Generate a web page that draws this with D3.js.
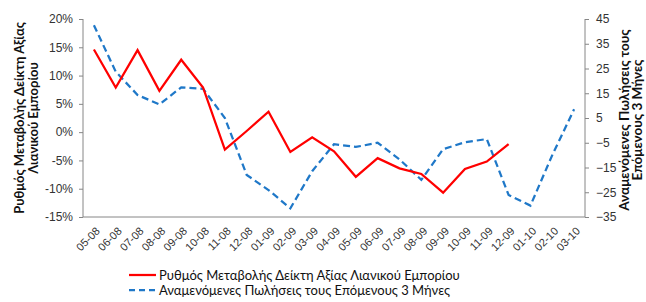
<!DOCTYPE html>
<html>
<head>
<meta charset="utf-8">
<script src="https://cdnjs.cloudflare.com/ajax/libs/d3/7.8.5/d3.min.js"></script>
<style>
  body { margin: 0; background: #fff; }
  svg { font-family: Lato, "Open Sans", sans-serif; }
</style>
</head>
<body>
<div id="chart"></div>
<script>
// months on the x axis
const months = ["05-08", "06-08", "07-08", "08-08", "09-08", "10-08", "11-08", "12-08",
  "01-09", "02-09", "03-09", "04-09", "05-09", "06-09", "07-09", "08-09", "09-09",
  "10-09", "11-09", "12-09", "01-10", "02-10", "03-10"];

// retail value index change (%), left axis
const retailChange = [14.6, 7.9, 14.5, 7.3, 12.8, 7.9, -3.1, 0.2, 3.6, -3.5, -0.9, -3.4,
  -7.9, -4.6, -6.4, -7.4, -10.7, -6.5, -5.2, -2.1];

// expected sales next 3 months, right axis
const expectedSales = [42.5, 23.7, 14.3, 10.5, 17.4, 16.8, 5, -18, -24.1, -31.5, -16.5,
  -5.6, -6.7, -5.0, -11.7, -20, -7.6, -4.8, -3.5, -26.1, -30.4, -10, 8.5];

const leftTicks = [-15, -10, -5, 0, 5, 10, 15, 20];
const rightTicks = [-35, -25, -15, -5, 5, 15, 25, 35, 45];

const seriesNames = ["Ρυθμός Μεταβολής Δείκτη Αξίας Λιανικού Εμπορίου",
  "Αναμενόμενες Πωλήσεις τους Επόμενους 3 Μήνες"];

const W = 646, H = 302;
const margin = { top: 19, right: 60, bottom: 85, left: 83 };
const width = 585 - margin.left, height = 217 - margin.top;

const svg = d3.select("#chart").append("svg")
  .attr("width", W).attr("height", H);
const g = svg.append("g").attr("transform", `translate(${margin.left},${margin.top})`);

const x = d3.scaleBand().domain(months).range([0, width]);
const yL = d3.scaleLinear().domain([-15, 20]).range([height, 0]);
const yR = d3.scaleLinear().domain([-35, 45]).range([height, 0]);

const axisColor = "#868686", textColor = "#333";

// left axis
const la = g.append("g").call(d3.axisLeft(yL).tickValues(leftTicks).tickSize(4).tickPadding(6)
  .tickFormat(d => d + "%"));
la.select(".domain").attr("stroke", axisColor).attr("d", `M0,0V${height}`);
la.selectAll(".tick line").attr("stroke", axisColor);
la.selectAll("text").attr("fill", textColor).style("font-size", "12px");

// right axis
const ra = g.append("g").attr("transform", `translate(${width},0)`)
  .call(d3.axisRight(yR).tickValues(rightTicks).tickSize(4).tickPadding(7));
ra.select(".domain").attr("stroke", axisColor).attr("d", `M0,0V${height}`);
ra.selectAll(".tick line").attr("stroke", axisColor);
ra.selectAll("text").attr("fill", textColor).style("font-size", "12px");

// bottom axis
const ba = g.append("g").attr("transform", `translate(0,${height})`)
  .call(d3.axisBottom(x).tickSize(0).tickPadding(0));
ba.select(".domain").attr("stroke", axisColor).attr("d", `M0,0H${width}`);
ba.selectAll("text")
  .attr("fill", textColor).style("font-size", "11px")
  .attr("text-anchor", "end").attr("dy", "0.35em")
  .attr("transform", "translate(4,12) rotate(-45)");

// lines
const redLine = d3.line()
  .x((d, i) => x(months[i]) + x.bandwidth() / 2)
  .y(d => yL(d));
const blueLine = d3.line()
  .x((d, i) => x(months[i]) + x.bandwidth() / 2)
  .y(d => yR(d));

g.append("path").datum(expectedSales)
  .attr("fill", "none").attr("stroke", "#1f78c8").attr("stroke-width", 2.25)
  .attr("stroke-dasharray", "7,4").attr("d", blueLine);
g.append("path").datum(retailChange)
  .attr("fill", "none").attr("stroke", "#f00").attr("stroke-width", 2.25)
  .attr("d", redLine);

// axis titles
const lt = svg.append("text")
  .attr("transform", `translate(24,118) rotate(-90)`)
  .attr("text-anchor", "middle").attr("fill", "#111")
  .style("font-size", "13px").style("font-weight", "bold");
lt.append("tspan").attr("x", 0).attr("dy", 0).text("Ρυθμός Μεταβολής Δείκτη Αξίας");
lt.append("tspan").attr("x", 0).attr("dy", 14).text("Λιανικού Εμπορίου");

const rt = svg.append("text")
  .attr("transform", `translate(629,120) rotate(-90)`)
  .attr("text-anchor", "middle").attr("fill", "#111")
  .style("font-size", "13.5px").style("font-weight", "bold");
rt.append("tspan").attr("x", 0).attr("dy", 0).text("Αναμενόμενες Πωλήσεις τους");
rt.append("tspan").attr("x", 0).attr("dy", 13).text("Επόμενους 3 Μήνες");

// legend
const legend = svg.append("g").attr("transform", "translate(129,275)");
const styles = [{ c: "#f00", dash: null }, { c: "#1f78c8", dash: "6,4" }];
seriesNames.forEach((name, i) => {
  const row = legend.append("g").attr("transform", `translate(0,${i * 15})`);
  row.append("line").attr("x1", 0).attr("x2", 27).attr("y1", 0).attr("y2", 0)
    .attr("stroke", styles[i].c).attr("stroke-width", 2.25)
    .attr("stroke-dasharray", styles[i].dash);
  row.append("text").attr("x", 30).attr("y", 0).attr("dy", "0.35em")
    .attr("fill", "#111").style("font-size", "13px").text(name);
});
</script>
</body>
</html>
